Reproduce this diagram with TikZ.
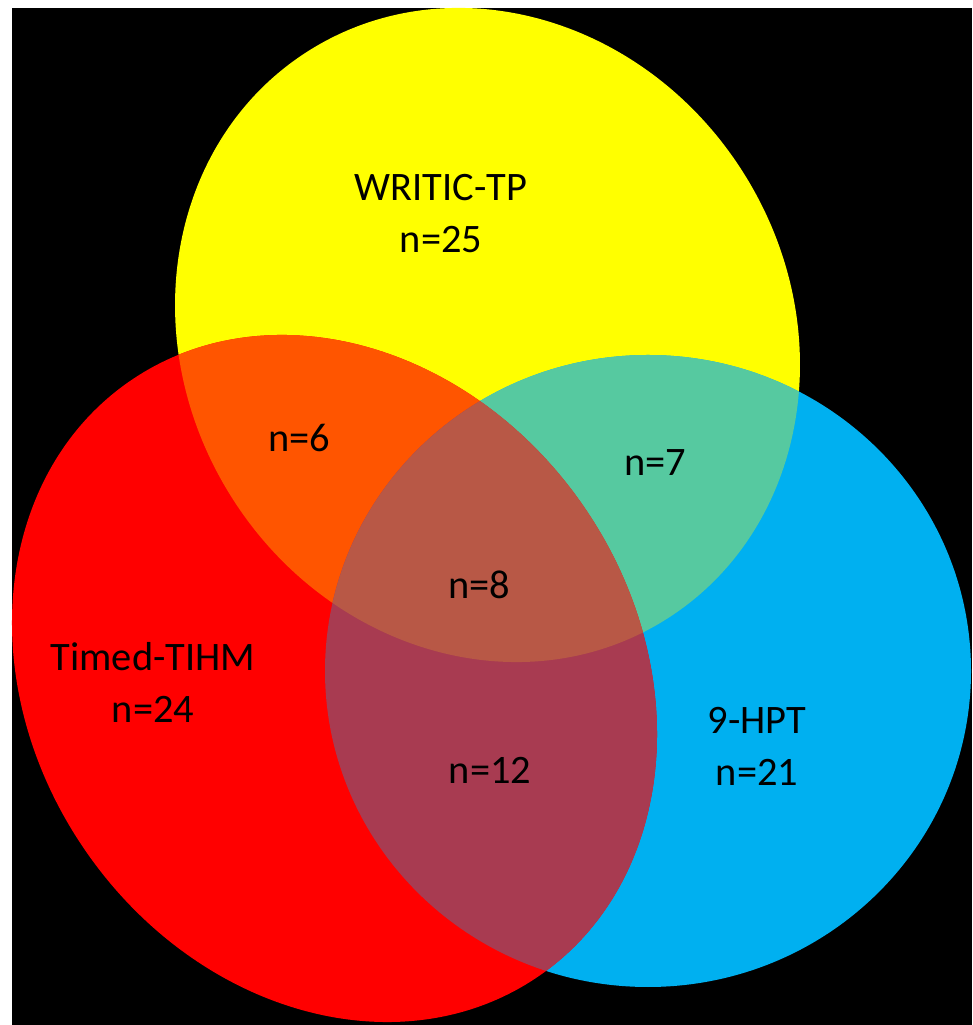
\documentclass[tikz,border=0pt]{standalone}
\usepackage{fontspec}
\setmainfont{Carlito}
\usepackage{tikz}
\usetikzlibrary{calc}
\definecolor{setYellow}{HTML}{FFFF00}
\definecolor{setRed}{HTML}{FF0000}
\definecolor{setBlue}{HTML}{00B0F0}
\definecolor{mixOrange}{HTML}{FF5500}
\definecolor{mixGreen}{HTML}{56C9A0}
\definecolor{mixMaroon}{HTML}{A83B51}
\definecolor{mixCore}{HTML}{B85846}
\tikzset{
  setlabel/.style={align=center, inner sep=0pt, text=black,
                   font=\fontsize{11.5}{14.8}\selectfont},
  count/.style={inner sep=0pt, text=black, font=\fontsize{11.5}{14.8}\selectfont},
  wshape/.style={rotate around={31.8:(4.875,6.90)}},
  tshape/.style={rotate around={34.4:(3.345,3.465)}}
}

\begin{document}
\begin{tikzpicture}
\useasboundingbox (0,0) rectangle (9.72,10.25);
\fill[white] (0,0) rectangle (9.72,10.25);
\fill[black] (0.12,0) rectangle (9.72,10.17);

\begin{scope}
  \clip (0.12,0) rectangle (9.72,10.17);
  % the three sets
  \fill[setYellow, wshape] (4.875,6.90) ellipse [x radius=3.03, y radius=3.358];
  \fill[setBlue] (6.48,3.54) ellipse [x radius=3.23, y radius=3.16];
  \fill[setRed, tshape] (3.345,3.465) ellipse [x radius=3.028, y radius=3.61];
  % overlaps
  \begin{scope}
    \clip[wshape] (4.875,6.90) ellipse [x radius=3.03, y radius=3.358];
    \fill[mixGreen] (6.48,3.54) ellipse [x radius=3.23, y radius=3.16];
    \fill[mixOrange, tshape] (3.345,3.465) ellipse [x radius=3.028, y radius=3.61];
  \end{scope}
  \begin{scope}
    \clip[tshape] (3.345,3.465) ellipse [x radius=3.028, y radius=3.61];
    \fill[mixMaroon] (6.48,3.54) ellipse [x radius=3.23, y radius=3.16];
    \clip[wshape] (4.875,6.90) ellipse [x radius=3.03, y radius=3.358];
    \fill[mixCore] (6.48,3.54) ellipse [x radius=3.23, y radius=3.16];
  \end{scope}
\end{scope}

\node[setlabel] (writic) at (4.41,8.115) {WRITIC-TP\\n=25};
\node[setlabel] (tihm) at (1.53,3.425) {Timed-TIHM\\n=24};
\node[setlabel] (hpt) at (7.57,2.79) {9-HPT\\n=21};
\node[count] (wt) at (2.99,5.87) {n=6};
\node[count] (wh) at (6.55,5.62) {n=7};
\node[count] (all) at (4.79,4.40) {n=8};
\node[count] (th) at (4.90,2.55) {n=12};
\end{tikzpicture}
\end{document}
